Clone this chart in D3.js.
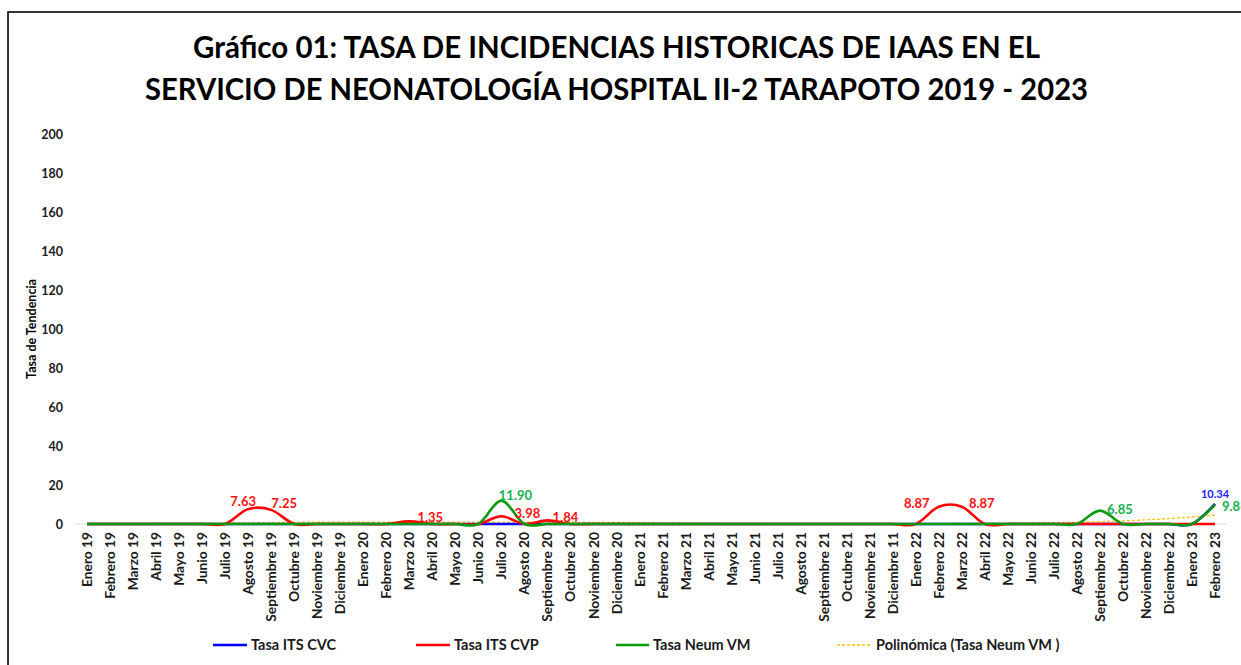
<!DOCTYPE html>
<html>
<head>
<meta charset="utf-8">
<script src="https://cdn.jsdelivr.net/npm/d3@7"></script>
<style>
  html, body { margin: 0; padding: 0; background: #fff; }
  svg { display: block; }
  text { font-family: Lato, "Open Sans", sans-serif; font-weight: 700; fill: #1a1a1a; }
</style>
</head>
<body>
<svg id="chart" width="1241" height="665"></svg>
<script>
// ---- DATA ----
const categories = [
  "Enero 19","Febrero 19","Marzo 19","Abril 19","Mayo 19","Junio 19","Julio 19","Agosto 19","Septiembre 19","Octubre 19","Noviembre 19","Diciembre 19",
  "Enero 20","Febrero 20","Marzo 20","Abril 20","Mayo 20","Junio 20","Julio 20","Agosto 20","Septiembre 20","Octubre 20","Noviembre 20","Diciembre 20",
  "Enero 21","Febrero 21","Marzo 21","Abril 21","Mayo 21","Junio 21","Julio 21","Agosto 21","Septiembre 21","Octubre 21","Noviembre 21","Diciembre 11",
  "Enero 22","Febrero 22","Marzo 22","Abril 22","Mayo 22","Junio 22","Julio 22","Agosto 22","Septiembre 22","Octubre 22","Noviembre 22","Diciembre 22",
  "Enero 23","Febrero 23"
];
const tasaCVC = [
  0,0,0,0,0,0,0,0,0,0,0,0,
  0,0,0,0,0,0,0,0,0,0,0,0,
  0,0,0,0,0,0,0,0,0,0,0,0,
  0,0,0,0,0,0,0,0,0,0,0,0,
  0,10.34
];
const tasaCVP = [
  0,0,0,0,0,0,0,7.63,7.25,0,0,0,
  0,0,1.35,0,0,0,3.98,0,1.84,0,0,0,
  0,0,0,0,0,0,0,0,0,0,0,0,
  0,8.87,8.87,0,0,0,0,0,0,0,0,0,
  0,0
];
const tasaNeum = [
  0,0,0,0,0,0,0,0,0,0,0,0,
  0,0,0,0,0,0,11.90,0,0,0,0,0,
  0,0,0,0,0,0,0,0,0,0,0,0,
  0,0,0,0,0,0,0,0,6.85,0,0,0,
  0,9.86
];
// trend line (Polinómica) values
const trendNeum = [
  0.3,0.3,0.3,0.4,0.4,0.5,0.5,0.6,0.7,0.9,1.0,1.0,
  1.0,1.0,1.0,1.0,1.0,1.0,1.0,0.9,0.9,0.9,0.8,0.8,
  0.7,0.6,0.5,0.4,0.3,0.3,0.2,0.2,0.1,0.1,0.1,0.1,
  0.2,0.2,0.3,0.4,0.5,0.6,0.7,0.9,1.2,1.6,2.1,2.8,
  3.6,4.6
];
const yTicks = [0,20,40,60,80,100,120,140,160,180,200];
const seriesNames = ["Tasa ITS CVC","Tasa ITS CVP","Tasa Neum VM","Polinómica (Tasa Neum VM )"];
const titleLines = [
  "Gráfico 01: TASA DE INCIDENCIAS HISTORICAS DE IAAS EN EL",
  "SERVICIO DE NEONATOLOGÍA HOSPITAL II-2 TARAPOTO 2019 - 2023"
];

// ---- LAYOUT / STYLE ----
const svg = d3.select("#chart");
const plotLeft = 75.5, plotRight = 1226.5, yZero = 524, yTop = 134;
const x = d3.scalePoint().domain(categories).range([plotLeft, plotRight]).padding(0.5);
const y = d3.scaleLinear().domain([0, 200]).range([yZero, yTop]);

// frame
svg.append("rect").attr("x", 8).attr("y", 12).attr("width", 1400).attr("height", 800)
  .attr("fill", "none").attr("stroke", "#000").attr("stroke-width", 1.6);

// title
const titleSpans = [[193, 1040, 58], [145, 1088, 100]];
titleLines.forEach((t, i) => {
  const [x0, x1, by] = titleSpans[i];
  svg.append("text").attr("x", x0).attr("y", by)
    .attr("textLength", x1 - x0).attr("lengthAdjust", "spacingAndGlyphs")
    .style("font-size", "30px").style("fill", "#000").text(t);
});

// y axis labels
const yAxis = d3.axisLeft(y).tickValues(yTicks).tickSize(0).tickPadding(0);
const gy = svg.append("g").attr("transform", "translate(63,0)").call(yAxis);
gy.select(".domain").remove();
gy.selectAll("text").style("font-size", "12.5px").style("font-family", "Lato, sans-serif").style("font-weight", 700).attr("fill", "#262626");

svg.append("text").attr("transform", "translate(36,329) rotate(-90)")
  .attr("text-anchor", "middle").style("font-size", "12.5px").style("fill", "#000").text("Tasa de Tendencia");

// x axis
svg.append("line").attr("x1", plotLeft).attr("x2", plotRight).attr("y1", yZero).attr("y2", yZero)
  .attr("stroke", "#d9d9d9").attr("stroke-width", 1);
const xAxis = d3.axisBottom(x).tickSize(0).tickPadding(0);
const gx = svg.append("g").attr("transform", `translate(0,${yZero})`).call(xAxis);
gx.select(".domain").remove();
gx.selectAll("text")
  .attr("transform", "rotate(-90) scale(1.06,1)")
  .attr("x", -7.5).attr("y", 0).attr("dy", "0.35em")
  .attr("text-anchor", "end")
  .style("font-size", "13px").style("font-family", "Lato, sans-serif").style("font-weight", 700).attr("fill", "#1a1a1a");

// lines
const lineGen = d3.line().x((d, i) => x(categories[i])).y(d => y(d)).curve(d3.curveCardinal.tension(0));
const colors = { cvc: "#0000FF", cvp: "#FF0000", neum: "#0E9A0E", trend: "#FFC000" };

svg.append("path").datum(trendNeum).attr("d", lineGen).attr("fill", "none")
  .attr("stroke", colors.trend).attr("stroke-width", 1.3).attr("stroke-dasharray", "3,2");
svg.append("path").datum(tasaCVC).attr("d", lineGen).attr("fill", "none")
  .attr("stroke", colors.cvc).attr("stroke-width", 2.6);
svg.append("path").datum(tasaCVP).attr("d", lineGen).attr("fill", "none")
  .attr("stroke", colors.cvp).attr("stroke-width", 2.6);
svg.append("path").datum(tasaNeum).attr("d", lineGen).attr("fill", "none")
  .attr("stroke", colors.neum).attr("stroke-width", 2.6);

// data labels (non-zero values), with offsets relative to each point
const labelOffsets = {
  "cvp-7": [-5, -8, "middle"], "cvp-8": [13, -6, "middle"], "cvp-14": [21, -4, "middle"],
  "cvp-18": [26, -3, "middle"], "cvp-20": [18, -3, "middle"], "cvp-37": [-22, -3, "middle"],
  "cvp-38": [20, -3, "middle"], "neum-18": [14, -5, "middle"], "neum-44": [20, -1, "middle"],
  "neum-49": [7, 2, "start"], "cvc-49": [0, -10, "middle"]
};
const labelColors = { cvc: "#2020FF", cvp: "#FF1010", neum: "#12B04E" };
[["cvc", tasaCVC], ["cvp", tasaCVP], ["neum", tasaNeum]].forEach(([key, arr]) => {
  arr.forEach((v, i) => {
    if (!v) return;
    const off = labelOffsets[`${key}-${i}`] || [0, -8, "middle"];
    svg.append("text")
      .attr("x", x(categories[i]) + off[0]).attr("y", y(v) + off[1])
      .attr("dy", "0.35em").attr("text-anchor", off[2])
      .style("font-size", key === "cvc" ? "11px" : "13px").style("fill", labelColors[key])
      .text(v.toFixed(2));
  });
});

// legend
const legendItems = [
  { name: seriesNames[0], color: colors.cvc, x0: 213, x1: 247, dash: null },
  { name: seriesNames[1], color: colors.cvp, x0: 416, x1: 450, dash: null },
  { name: seriesNames[2], color: "#079A07", x0: 616, x1: 649, dash: null },
  { name: seriesNames[3], color: colors.trend, x0: 837, x1: 872, dash: "3,2" }
];
const ly = 645;
legendItems.forEach(it => {
  svg.append("line").attr("x1", it.x0).attr("x2", it.x1).attr("y1", ly).attr("y2", ly)
    .attr("stroke", it.color).attr("stroke-width", it.dash ? 1.3 : 2.6)
    .attr("stroke-dasharray", it.dash);
  svg.append("text").attr("x", it.x1 + 4).attr("y", ly).attr("dy", "0.35em")
    .style("font-size", "14.5px").style("fill", "#1a1a1a").text(it.name);
});
</script>
</body>
</html>
